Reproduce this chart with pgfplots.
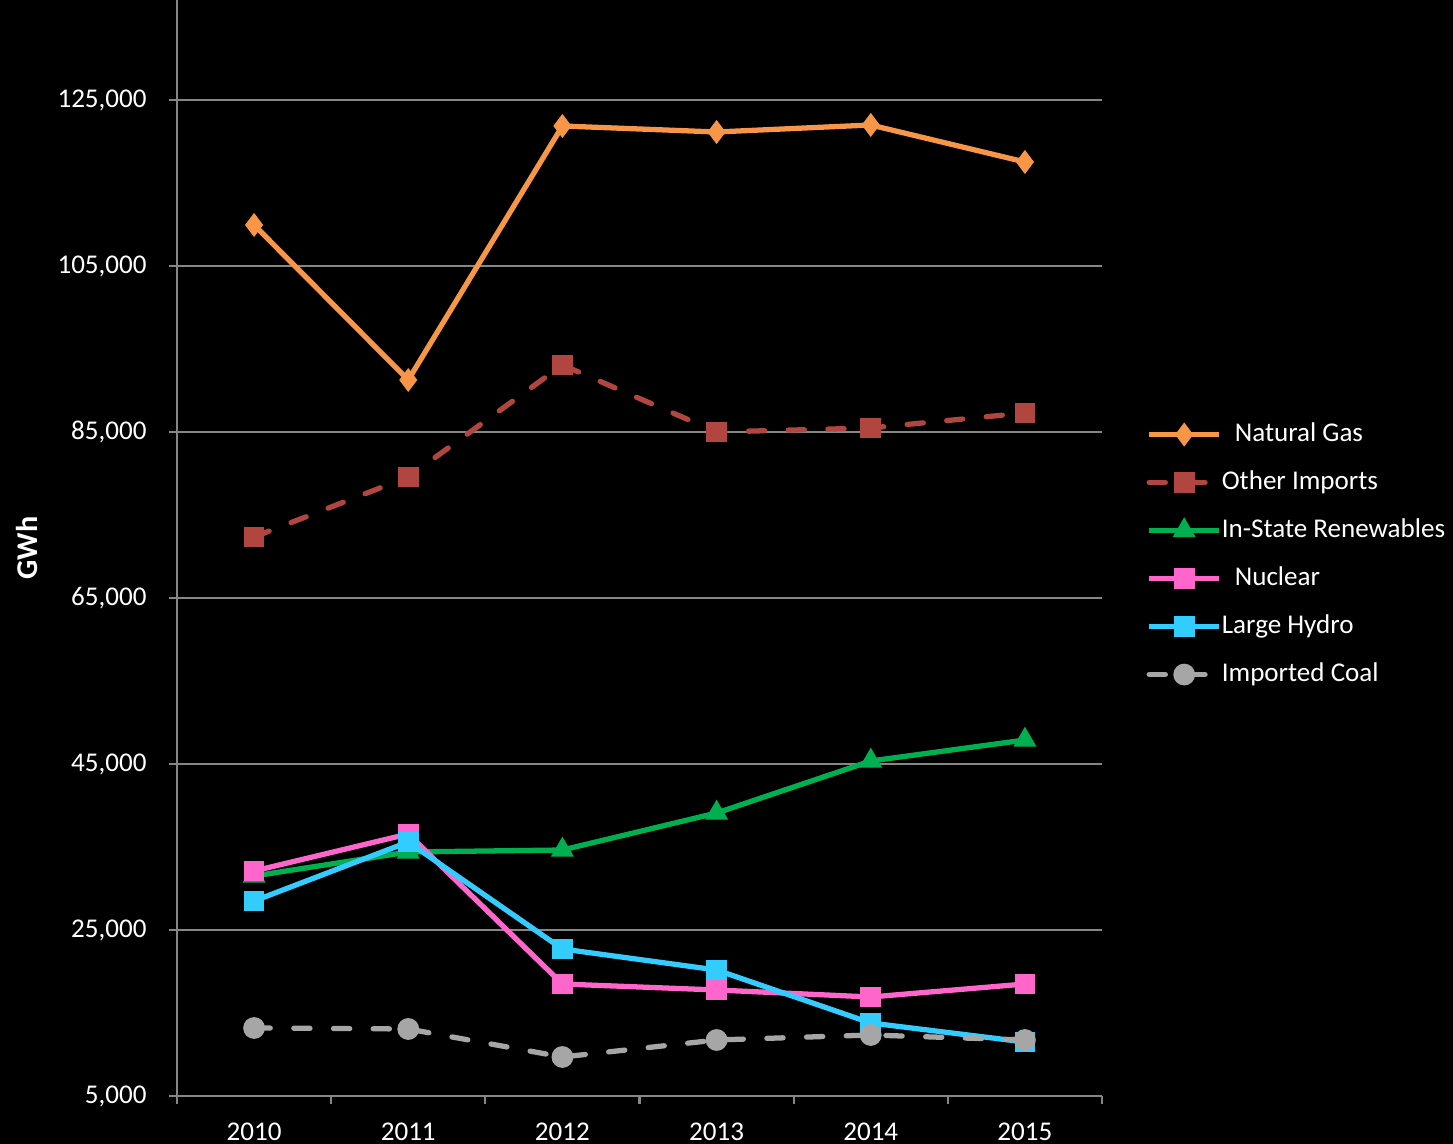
\documentclass[border=0pt]{standalone}
\usepackage{pgfplots}
\pgfplotsset{compat=1.18}
\usepackage{fontspec}
\setmainfont{Carlito}

\definecolor{gas}{HTML}{F79646}
\definecolor{imports}{HTML}{B0463F}
\definecolor{renew}{HTML}{00B050}
\definecolor{nuclear}{HTML}{FF66CC}
\definecolor{hydro}{HTML}{33CCFF}
\definecolor{coal}{HTML}{A6A6A6}
\definecolor{gridgray}{HTML}{868686}

\begin{document}
\begin{tikzpicture}
% background and page size (1px = 0.01cm)
\fill[black] (-1.77cm,-0.48cm) rectangle (12.76cm,10.96cm);
\path[use as bounding box] (-1.77cm,-0.48cm) rectangle (12.76cm,10.96cm);
\begin{axis}[
    at={(0,0)}, anchor=south west,
    scale only axis,
    width=9.25cm, height=10.96cm,
    xmin=-0.5, xmax=5.5,
    ymin=5000, ymax=137048,
    xtick={0,...,5},
    xticklabels={2010,2011,2012,2013,2014,2015},
    minor xtick={-0.5,0.5,...,5.5},
    ytick={5000,25000,45000,65000,85000,105000,125000},
    yticklabels={{5,000},{25,000},{45,000},{65,000},{85,000},{105,000},{125,000}},
    axis x line*=bottom, axis y line*=left,
    axis line style={gridgray, line width=0.6pt, -},
    tick align=outside,
    x tick style={draw=none},
    minor x tick style={draw=gridgray, line width=0.6pt},
    minor tick length=0.08cm,
    y tick style={draw=gridgray, line width=0.6pt},
    major tick length=0.08cm,
    ymajorgrids,
    grid style={gridgray, line width=0.6pt},
    ticklabel style={font=\fontsize{7.7}{8}\selectfont, text=white},
    xticklabel style={yshift=-0.07cm},
    yticklabel style={xshift=-0.1cm},
    ylabel={\textbf{GWh}},
    ylabel style={at={(axis description cs:-0.162,0.5)}, anchor=center,
        font=\fontsize{8.6}{9}\selectfont, text=white},
    clip=false,
    every axis plot/.append style={line width=1.5pt},
    legend style={at={(1.036,0.494)}, anchor=west, draw=none, fill=black,
        text=white, font=\fontsize{7.7}{8}\selectfont,
        nodes={minimum height=0.48cm, inner sep=0pt},
        row sep=0pt},
    legend cell align=left,
    legend image code/.code={
        \draw[mark repeat=2, mark phase=2, #1]
            plot coordinates {(0cm,0cm) (0.35cm,0cm) (0.7cm,0cm)};},
    legend style={/tikz/every even column/.append style={column sep=0pt}},
]
\addplot[gas, mark=diamond*, mark size=3.1pt, mark options={fill=gas, line width=0.4pt}]
    coordinates {(0,109940) (1,91264) (2,121866) (3,121143) (4,121987) (5,117530)};
\addlegendentry{\hspace{0.13cm}Natural Gas}
\addplot[imports, dash pattern=on 4.6pt off 6.7pt, line cap=round,
    mark=square*, mark size=2.75pt, mark options={solid, fill=imports, line width=0.4pt}]
    coordinates {(0,72350) (1,79577) (2,93071) (3,85000) (4,85482) (5,87289)};
\addlegendentry{Other Imports}
\addplot[renew, mark=triangle*, mark size=3.4pt, mark options={fill=renew, line width=0.4pt}]
    coordinates {(0,31506) (1,34397) (2,34638) (3,39096) (4,45361) (5,47891)};
\addlegendentry{In-State Renewables}
\addplot[nuclear, mark=square*, mark size=2.75pt, mark options={fill=nuclear, line width=0.4pt}]
    coordinates {(0,32108) (1,36566) (2,18494) (3,17771) (4,16928) (5,18494)};
\addlegendentry{\hspace{0.13cm}Nuclear}
\addplot[hydro, mark=square*, mark size=2.75pt, mark options={fill=hydro, line width=0.4pt}]
    coordinates {(0,28494) (1,35602) (2,22711) (3,20181) (4,13795) (5,11506)};
\addlegendentry{Large Hydro}
\addplot[coal, dash pattern=on 4.6pt off 6.7pt, line cap=round,
    mark=*, mark size=2.9pt, mark options={solid, fill=coal, line width=0.4pt}]
    coordinates {(0,13193) (1,13072) (2,9699) (3,11747) (4,12349) (5,11747)};
\addlegendentry{Imported Coal}
\end{axis}
\end{tikzpicture}
\end{document}
